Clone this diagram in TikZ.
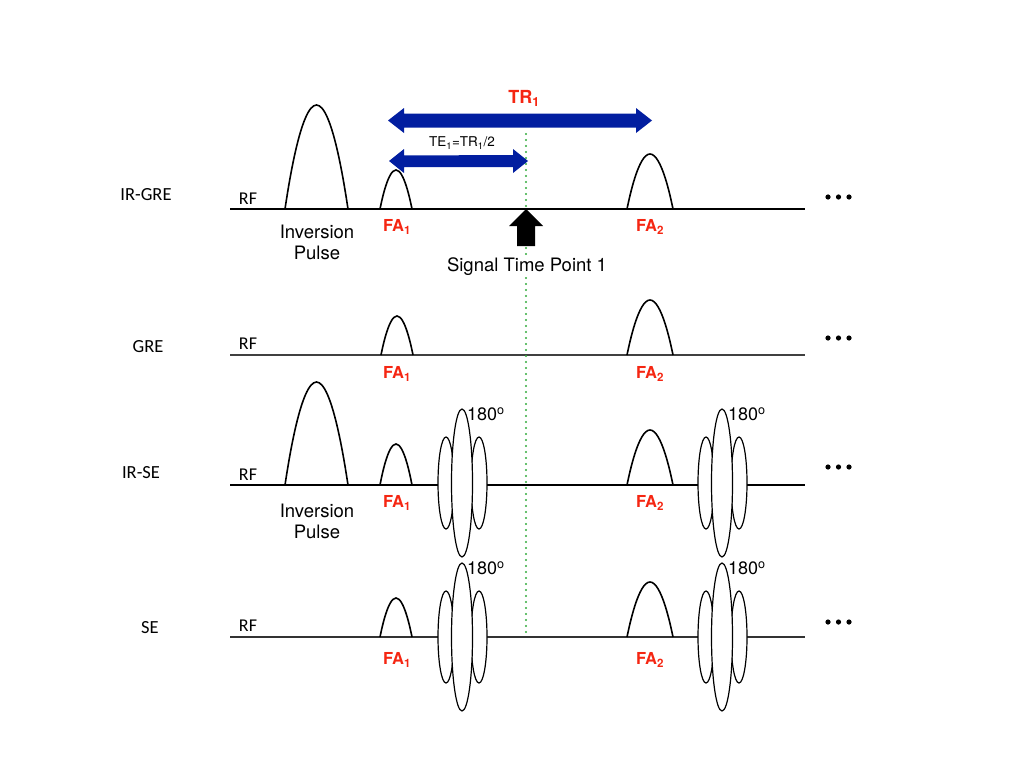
\documentclass[tikz,border=0pt]{standalone}
\usepackage{fontspec}
\setmainfont{TeX Gyre Heros}
\newfontfamily\calib{Carlito}
\definecolor{myblue}{RGB}{2,30,160}
\definecolor{myred}{RGB}{245,38,18}
\definecolor{mygreen}{RGB}{50,170,60}
\begin{document}
\begin{tikzpicture}[x=1pt,y=-1pt,
  base/.style={line width=1.6pt},
  pulse/.style={line width=1.6pt},
  lobe/.style={line width=1.2pt,fill=white},
  rowlab/.style={font=\calib\fontsize{18.5}{20}\selectfont,inner sep=0pt},
  rflab/.style={font=\calib\fontsize{18}{20}\selectfont,inner sep=0pt},
  falab/.style={font=\bfseries\fontsize{16.5}{18}\selectfont,text=myred,inner sep=0pt},
  txt/.style={font=\fontsize{18.5}{21}\selectfont,inner sep=0pt,align=center},
  deg/.style={font=\fontsize{18}{20}\selectfont,inner sep=0pt,anchor=west},
  dot/.style={fill=black}]
\useasboundingbox (0,0) rectangle (1024,768);

% baselines
\draw[base] (230,209) -- (805,209);
\draw[base,black!75] (230,355) -- (805,355);
\draw[base] (230,485) -- (805,485);
\draw[base,black!80] (230,637) -- (805,637);

% green dotted line
\draw[mygreen,line width=2.2pt,line cap=round,dash pattern=on 0pt off 6pt] (526,134) -- (526,636);

% IR-GRE pulses
\draw[pulse] (285,209) parabola bend (316.5,105) (348,209);
\draw[pulse] (380,209) parabola bend (396,170) (412,209);
\draw[pulse] (627,209) parabola bend (650,154) (673,209);
% GRE pulses
\draw[pulse] (381,355) parabola bend (397,316) (413,355);
\draw[pulse] (627,355) parabola bend (650,300) (673,355);
% IR-SE pulses
\draw[pulse] (285,485) parabola bend (316.5,382) (348,485);
\draw[pulse] (380,485) parabola bend (396,444) (412,485);
\draw[pulse] (627,485) parabola bend (650,430) (673,485);
% SE pulses
\draw[pulse] (380,637) parabola bend (396,598) (412,637);
\draw[pulse] (627,637) parabola bend (650,582) (673,637);

% 180 pulses
\foreach \cx/\cy in {462/483, 722/483, 462/637, 722/637}{
  \draw[lobe] (\cx-16,\cy) ellipse [x radius=8pt, y radius=46pt];
  \draw[lobe] (\cx+17,\cy) ellipse [x radius=8pt, y radius=46pt];
  \draw[lobe] (\cx,\cy) ellipse [x radius=10.5pt, y radius=74pt];
}
\node[deg] (d1) at (467,414) {180\textsuperscript{o}};
\node[deg] (d2) at (728,414) {180\textsuperscript{o}};
\node[deg] (d3) at (467,568) {180\textsuperscript{o}};
\node[deg] (d4) at (728,568) {180\textsuperscript{o}};

% blue arrows
\coordinate (trL) at (388,120.5);
\coordinate (trR) at (652,120.5);
\fill[myblue] (trL) -- ++(16,-12.5) -- ++(0,5.5) -- (636,113.5) -- ++(0,-5.5) -- (trR)
  -- (636,133) -- ++(0,-5.5) -- (404,127.5) -- ++(0,5.5) -- cycle;
\coordinate (teL) at (389,161);
\coordinate (teR) at (528,161);
\fill[myblue] (teL) -- ++(15,-12) -- ++(0,6.5) -- (513,155) -- ++(0,-6) -- (teR)
  -- (513,173) -- ++(0,-6) -- (404,167) -- ++(0,6) -- cycle;
\node[font=\bfseries\fontsize{18}{20}\selectfont,text=myred,inner sep=0pt] (tr) at (524,98) {TR\textsubscript{1}};
\node[font=\fontsize{13.5}{15}\selectfont,inner sep=0pt] (te) at (462,143) {TE\textsubscript{1}=TR\textsubscript{1}/2};

% signal arrow
\node[txt,fill=white,inner sep=1pt] (sig) at (527,267) {Signal Time Point 1};
\coordinate (sigtip) at (526,209);
\fill (sigtip) -- (543,226) -- (535,226) -- (535,246) -- (517,246) -- (517,226) -- (509,226) -- cycle;

% row labels
\node[rowlab] (r1) at (146,195) {IR-GRE};
\node[rowlab] (r2) at (148,347) {GRE};
\node[rowlab] (r3) at (141,473) {IR-SE};
\node[rowlab] (r4) at (150,628) {SE};
\node[rflab] (rf1) at (248,199) {RF};
\node[rflab] (rf2) at (248,344) {RF};
\node[rflab] (rf3) at (248,475) {RF};
\node[rflab] (rf4) at (248,626) {RF};

% FA labels
\foreach \y [count=\i] in {227,374,503,660}{
  \node[falab] (fa1\i) at (397,\y) {FA\textsubscript{1}};
  \node[falab] (fa2\i) at (650,\y) {FA\textsubscript{2}};
}

% inversion pulse labels
\node[txt] (inv1) at (317,242) {Inversion\\Pulse};
\node[txt] (inv2) at (317,521) {Inversion\\Pulse};

% dots
\foreach \y in {197,338,467,622}{
  \fill (828,\y) circle (2.6pt);
  \fill (838.5,\y) circle (2.6pt);
  \fill (849,\y) circle (2.6pt);
}
\end{tikzpicture}
\end{document}
